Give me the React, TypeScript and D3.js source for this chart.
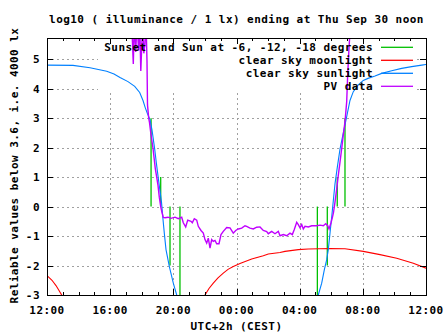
import React from "react";
import * as d3 from "d3";

// ---- data (hours since 12:00 noon, log10 lux) ----
const titleText = "log10 ( illuminance / 1 lx) ending at Thu Sep 30 noon";
const xTickHours = [0, 4, 8, 12, 16, 20, 24];
const xTickLabels = ["12:00", "16:00", "20:00", "00:00", "04:00", "08:00", "12:00"];
const yTicks = [-3, -2, -1, 0, 1, 2, 3, 4, 5];
const legendLabels = [
  "Sunset and Sun at -6, -12, -18 degrees",
  "clear sky moonlight",
  "clear sky sunlight",
  "PV data",
];

// green markers: [hour, top value] vertical from 0
const sunMarkers: [number, number][] = [
  [6.59, 3], [7.2, 1], [7.79, -2], [8.42, -3],
  [17.12, -3], [17.75, -2], [18.38, 1], [18.87, 3],
];

const sunlightEvening: [number, number][] = [
  [0, 4.8], [1.646, 4.79], [2.723, 4.71], [3.78, 4.59], [4.243, 4.5], [4.623, 4.38],
  [5.129, 4.24], [5.554, 4.08], [5.87, 3.87], [6.079, 3.6], [6.225, 3.35], [6.364, 3.15],
  [6.522, 2.95], [6.649, 2.6], [6.82, 1.95], [6.921, 1.49], [7.029, 1.04], [7.137, 0.6],
  [7.251, 0.15], [7.327, -0.33], [7.428, -0.9], [7.536, -1.46], [7.745, -2.03],
  [7.998, -2.6], [8.213, -3.0], [8.3, -3.2],
];
const sunlightMorning: [number, number][] = [
  [17.1, -3.2], [17.18, -3.0], [17.395, -2.6], [17.56, -2.15], [17.712, -1.8], [17.813, -1.46],
  [17.921, -0.9], [18.029, -0.35], [18.13, 0.2], [18.237, 0.77], [18.383, 1.33],
  [18.554, 1.95], [18.763, 2.5], [18.978, 3.05], [19.187, 3.6], [19.396, 3.9],
  [19.713, 4.13], [20.029, 4.28], [20.327, 4.35], [20.77, 4.43], [21.195, 4.52],
  [21.828, 4.61], [22.461, 4.69], [23.095, 4.75], [23.728, 4.8], [24, 4.82],
];

const moonlightEvening: [number, number][] = [
  [0, -2.34], [0.317, -2.5], [0.57, -2.68], [0.76, -2.85], [0.931, -3.0], [1.013, -3.08],
];
const moonlightNight: [number, number][] = [
  [9.911, -3.08], [10.005, -3.0], [10.258, -2.78], [10.531, -2.6], [10.828, -2.42],
  [11.164, -2.26], [11.462, -2.13], [11.797, -2.03], [12.221, -1.93], [12.963, -1.78],
  [13.697, -1.67], [14.014, -1.61], [14.755, -1.56], [15.071, -1.52], [15.914, -1.46],
  [16.547, -1.44], [17.921, -1.42], [18.871, -1.43], [20.029, -1.52], [21.087, -1.63],
  [22.145, -1.75], [23.196, -1.92], [24, -2.09],
];

const pvData: [number, number][] = [
  [5.36, 6.3], [5.465, 4.84], [5.53, 6.3], [5.62, 5.25], [5.7, 6.3], [5.8, 5.3],
  [5.87, 6.3], [5.94, 4.6], [6.0, 5.45], [6.06, 6.3], [6.13, 5.2], [6.2, 5.5],
  [6.27, 6.3], [6.332, 4.95],
  [6.364, 3.45], [6.44, 3.0], [6.491, 2.85], [6.586, 2.43], [6.712, 1.98], [6.858, 1.29],
  [6.947, 1.0], [7.029, 0.72], [7.111, 0.32], [7.2, 0.0], [7.282, -0.2], [7.365, -0.37],
  [7.473, -0.38], [7.663, -0.36], [7.852, -0.4], [8.106, -0.36], [8.315, -0.41],
  [8.53, -0.36], [8.631, -0.55], [8.783, -0.69], [8.91, -0.46], [9.119, -0.5],
  [9.201, -0.55], [9.328, -0.41], [9.48, -0.46], [9.581, -0.67], [9.752, -0.81],
  [9.898, -0.9], [10.005, -1.12], [10.113, -1.24], [10.214, -1.07], [10.322, -1.41],
  [10.429, -1.12], [10.531, -1.18], [10.638, -1.15], [10.746, -1.26], [10.892, -1.26],
  [11.018, -0.95], [11.164, -0.84], [11.379, -0.71], [11.588, -0.72], [11.797, -0.9],
  [11.949, -0.81], [12.114, -0.76], [12.329, -0.73], [12.538, -0.65], [12.646, -0.67],
  [12.855, -0.73], [13.064, -0.76], [13.279, -0.7], [13.488, -0.69], [13.697, -0.81],
  [13.912, -0.85], [14.014, -0.92], [14.229, -0.84], [14.438, -0.92], [14.647, -0.84],
  [14.755, -0.99], [14.964, -0.95], [15.179, -0.99], [15.388, -0.9], [15.534, -0.95],
  [15.66, -0.78], [15.812, -0.53], [15.914, -0.61], [16.021, -0.72], [16.129, -0.61],
  [16.23, -0.76], [16.338, -0.67], [16.547, -0.69], [16.762, -0.65], [17.079, -0.65],
  [17.288, -0.63], [17.497, -0.65], [17.649, -0.58], [17.776, -0.65], [17.858, -0.76],
  [17.985, -0.55], [18.067, -0.38], [18.143, -0.2], [18.237, 0.15], [18.345, 0.6],
  [18.446, 1.06], [18.554, 1.51], [18.662, 1.97], [18.763, 2.43], [18.871, 2.88],
  [18.978, 3.56], [19.041, 4.47], [19.124, 5.38], [19.219, 6.2],
];

const GREEN = "#00c000";
const RED = "#ff0000";
const BLUE = "#0080ff";
const PURPLE = "#c000ff";
const legendColors = [GREEN, RED, BLUE, PURPLE];

const W = 447, H = 335;
const L = 47, R = 426, T = 38, B = 295;
const FONT = "'DejaVu Sans Mono', monospace";

export default function App() {
  const x = d3.scaleLinear().domain([0, 24]).range([L, R]);
  const y = d3.scaleLinear().domain([-3, 5.72]).range([B, T]);
  const line = d3.line<[number, number]>().x((d) => x(d[0])).y((d) => y(d[1]));
  const minorHours = d3.range(0, 25);
  const textStyle = { fontFamily: FONT, fontWeight: "bold" as const, fontSize: "11px", letterSpacing: "0.45px" };

  const keyBox = { x0: 98, x1: 417, y0: T, y1: 91 };
  const keyRowY = (i: number) => 47.3 + i * 13;

  return (
    <div>
      <style>{`body{margin:0}`}</style>
      <svg width={W} height={H} style={{ display: "block", background: "#fff" }}>
        <defs>
          <clipPath id="plot">
            <rect x={L} y={T} width={R - L} height={B - T} />
          </clipPath>
        </defs>
        <rect x={0} y={0} width={W} height={H} fill="#fff" />
        {/* grid */}
        <g stroke="#a0a0a0" strokeWidth={1} strokeDasharray="2,3" shapeRendering="crispEdges">
          {xTickHours.slice(1, -1).map((h) => (
            <line key={"gx" + h} x1={Math.round(x(h)) + 0.5} x2={Math.round(x(h)) + 0.5} y1={T} y2={B} />
          ))}
          {yTicks.slice(1).map((v) => (
            <line key={"gy" + v} x1={L} x2={R} y1={Math.round(y(v)) + 0.5} y2={Math.round(y(v)) + 0.5} />
          ))}
        </g>
        {/* key background */}
        <rect x={keyBox.x0} y={keyBox.y0} width={keyBox.x1 - keyBox.x0} height={keyBox.y1 - keyBox.y0} fill="#fff" />
        {/* data */}
        <g clipPath="url(#plot)" fill="none">
          {sunMarkers.map(([h, v], i) => (
            <line key={"sm" + i} x1={x(h)} x2={x(h)} y1={y(0)} y2={y(v)} stroke={GREEN} strokeWidth={1.3} />
          ))}
          <path d={line(moonlightEvening) || ""} stroke={RED} strokeWidth={1.1} />
          <path d={line(moonlightNight) || ""} stroke={RED} strokeWidth={1.1} />
          <path d={line(sunlightEvening) || ""} stroke={BLUE} strokeWidth={1.1} />
          <path d={line(sunlightMorning) || ""} stroke={BLUE} strokeWidth={1.1} />
          <path d={line(pvData) || ""} stroke={PURPLE} strokeWidth={1.4} />
        </g>
        {/* legend */}
        {legendLabels.map((lab, i) => (
          <g key={"lg" + i}>
            <text x={373} y={keyRowY(i) + 4} textAnchor="end" style={textStyle} fill="#000">{lab}</text>
            <line x1={381} x2={413} y1={keyRowY(i)} y2={keyRowY(i)} stroke={legendColors[i]} strokeWidth={1.3} />
          </g>
        ))}
        {/* ticks */}
        <g stroke="#000" strokeWidth={1} shapeRendering="crispEdges">
          {minorHours.map((h) => {
            const major = h % 4 === 0;
            const len = major ? 6 : 3;
            const xx = Math.round(x(h)) + 0.5;
            return (
              <g key={"xt" + h}>
                <line x1={xx} x2={xx} y1={B} y2={B - len} />
                <line x1={xx} x2={xx} y1={T} y2={T + len} />
              </g>
            );
          })}
          {yTicks.map((v) => {
            const yy = Math.round(y(v)) + 0.5;
            return (
              <g key={"yt" + v}>
                <line x1={L} x2={L + 6} y1={yy} y2={yy} />
                <line x1={R} x2={R - 6} y1={yy} y2={yy} />
              </g>
            );
          })}
        </g>
        {/* border */}
        <rect x={L + 0.5} y={T + 0.5} width={R - L} height={B - T} fill="none" stroke="#000" strokeWidth={1} shapeRendering="crispEdges" />
        {/* tick labels */}
        {yTicks.map((v) => (
          <text key={"yl" + v} x={40} y={y(v) + 4} textAnchor="end" style={textStyle}>{String(v)}</text>
        ))}
        {xTickHours.map((h, i) => (
          <text key={"xl" + i} x={x(h)} y={314} textAnchor="middle" style={textStyle}>{xTickLabels[i]}</text>
        ))}
        {/* titles */}
        <text x={(L + R) / 2} y={23} textAnchor="middle" style={textStyle}>{titleText}</text>
        <text x={(L + R) / 2} y={330} textAnchor="middle" style={textStyle}>UTC+2h (CEST)</text>
        <text transform={`translate(17.5,${165.5}) rotate(-90)`} textAnchor="middle" style={textStyle}>
          Reliable values below 3.6, i.e. 4000 lx
        </text>
      </svg>
    </div>
  );
}
